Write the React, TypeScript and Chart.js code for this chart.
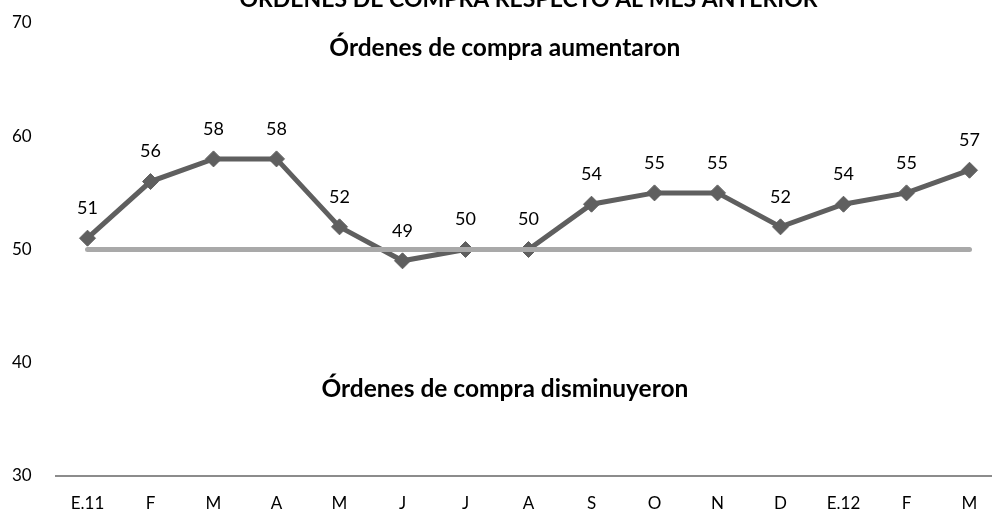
import React, { useEffect, useRef } from "react";
import { Chart, registerables } from "chart.js";

Chart.register(...registerables);

const categories = ["E.11", "F", "M", "A", "M", "J", "J", "A", "S", "O", "N", "D", "E.12", "F", "M"];
const orders = [51, 56, 58, 58, 52, 49, 50, 50, 54, 55, 55, 52, 54, 55, 57];
const threshold = [50, 50, 50, 50, 50, 50, 50, 50, 50, 50, 50, 50, 50, 50, 50];
const yTicks = [30, 40, 50, 60, 70];
const titleText = "ÓRDENES DE COMPRA RESPECTO AL MES ANTERIOR";
const upperNote = "Órdenes de compra aumentaron";
const lowerNote = "Órdenes de compra disminuyeron";
const upperNoteValue = 67.8;
const lowerNoteValue = 37.7;

const FONT = "Lato, 'Open Sans', sans-serif";

const textPlugin = {
  id: "textPlugin",
  afterDatasetsDraw(chart: any) {
    const { ctx, chartArea, scales } = chart;
    ctx.save();
    // data labels
    const meta = chart.getDatasetMeta(1);
    ctx.fillStyle = "#000";
    ctx.font = `18px ${FONT}`;
    ctx.textAlign = "center";
    ctx.textBaseline = "middle";
    meta.data.forEach((pt: any, i: number) => {
      ctx.fillText(String(orders[i]), pt.x, pt.y - 30);
    });
    // notes
    ctx.font = `bold 24.5px ${FONT}`;
    const nx = chartArea.left + chartArea.width * 0.475;
    ctx.fillText(upperNote, nx, scales.y.getPixelForValue(upperNoteValue));
    ctx.fillText(lowerNote, nx, scales.y.getPixelForValue(lowerNoteValue));
    // title (partially clipped at top)
    ctx.font = `bold 23px ${FONT}`;
    ctx.textBaseline = "alphabetic";
    ctx.fillText(titleText, (chartArea.left + chartArea.right) / 2, 7);
    ctx.restore();
  },
};

export default function App() {
  const ref = useRef<HTMLCanvasElement | null>(null);
  useEffect(() => {
    if (!ref.current) return;
    const chart = new Chart(ref.current, {
      type: "line",
      data: {
        labels: categories,
        datasets: [
          {
            data: threshold,
            borderColor: "#a9a9a9",
            borderWidth: 5,
            pointRadius: 0,
            borderCapStyle: "round",
            tension: 0,
          },
          {
            data: orders,
            borderColor: "#5f5f5f",
            backgroundColor: "#5f5f5f",
            borderWidth: 5,
            pointStyle: "rectRot",
            pointRadius: 8,
            pointBorderWidth: 1,
            pointBorderColor: "#5f5f5f",
            pointBackgroundColor: "#5f5f5f",
            tension: 0,
          },
        ],
      },
      options: {
        responsive: true,
        maintainAspectRatio: false,
        animation: false,
        layout: { padding: { left: 12, right: 7, top: 23, bottom: 0 } },
        plugins: {
          legend: { display: false },
          title: { display: false },
          tooltip: { enabled: false },
        },
        scales: {
          x: {
            offset: true,
            grid: { display: false, drawTicks: false },
            border: { display: true, color: "#8c8c8c", width: 2 },
            ticks: {
              color: "#000",
              font: { family: FONT, size: 17 },
              padding: 17,
              maxRotation: 0,
              autoSkip: false,
            },
            afterFit(scale: any) {
              scale.height = 46;
            },
          },
          y: {
            min: 30,
            max: 70,
            afterBuildTicks(scale: any) {
              scale.ticks = yTicks.map((v) => ({ value: v }));
            },
            grid: { display: false, drawTicks: false },
            border: { display: false },
            ticks: {
              color: "#000",
              font: { family: FONT, size: 17 },
              crossAlign: "far",
            },
            afterFit(scale: any) {
              scale.width = 44;
            },
          },
        },
      },
      plugins: [textPlugin],
    });
    return () => chart.destroy();
  }, []);

  return (
    <div style={{ position: "fixed", left: 0, top: 0, width: 992, height: 522, overflow: "hidden", background: "#fff" }}>
      <div style={{ position: "absolute", left: 0, top: 0, width: 1010, height: 522 }}>
        <canvas ref={ref} />
      </div>
    </div>
  );
}
